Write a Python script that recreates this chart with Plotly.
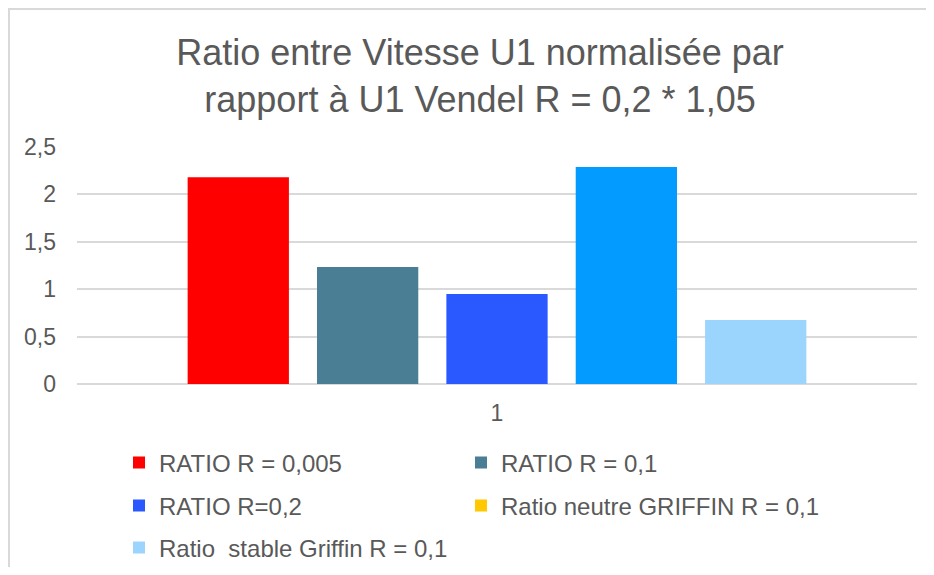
import plotly.graph_objects as go

categories = ["1"]
series_names = ["RATIO R = 0,005", "RATIO R = 0,1", "RATIO R=0,2",
                "Ratio neutre GRIFFIN R = 0,1", "Ratio  stable Griffin R = 0,1"]
series_values = [[2.18], [1.235], [0.95], [2.29], [0.675]]
bar_colors = ["#FF0000", "#4A7E94", "#2A5AFF", "#039BFF", "#9BD5FD"]
legend_colors = ["#FF0000", "#4A7E94", "#2A5AFF", "#FFC800", "#9BD5FD"]
legend_ids = ["legend", "legend2", "legend3", "legend4", "legend5"]
y_ticks = [0, 0.5, 1, 1.5, 2, 2.5]
y_tick_labels = ["0", "0,5", "1", "1,5", "2", "2,5"]

FONT = "Liberation Sans, Arial, sans-serif"
TXT = "#595959"

# page has an 8px body margin; figure sized to fit the window without scrollbars
W, H = 918, 559
L, R = 69, 918 - 909
T, B = 139, 559 - 376
pw, ph = W - L - R, H - T - B

def px_x(p):
    return (p - L) / pw

def px_y(p):
    return (H - B - p) / ph

fig = go.Figure()
for name, vals, bc, lc, lid in zip(series_names, series_values, bar_colors, legend_colors, legend_ids):
    same = bc == lc
    fig.add_trace(go.Bar(x=categories, y=vals, name=name, marker_color=bc,
                         marker_line_width=0, showlegend=same, legend=lid))
    if not same:
        fig.add_trace(go.Scatter(x=[None], y=[None], mode="markers", name=name,
                                 marker=dict(symbol="square", size=12, color=lc),
                                 showlegend=True, legend=lid))

leg_common = dict(orientation="v", xanchor="left", yanchor="middle",
                  font=dict(family=FONT, size=24, color=TXT),
                  bgcolor="rgba(0,0,0,0)", itemclick=False)

# legend grid: 2 columns, 3 rows (pixel positions of item text start / row centre)
col_x = [111, 453]
row_y = [455, 498, 540]
legend_pos = [(0, 0), (1, 0), (0, 1), (1, 1), (0, 2)]
legend_layout = {}
for lid, (c, r) in zip(legend_ids, legend_pos):
    legend_layout[lid] = dict(x=px_x(col_x[c]), y=px_y(row_y[r]), **leg_common)

fig.update_layout(
    width=W, height=H,
    margin=dict(l=L, r=R, t=T, b=B, pad=0, autoexpand=False),
    paper_bgcolor="white", plot_bgcolor="white",
    title=dict(text="Ratio entre Vitesse U1 normalisée par<br>rapport à U1 Vendel R = 0,2 * 1,05",
               x=472 / W, xanchor="center", y=1 - 57 / H, yanchor="middle",
               font=dict(family=FONT, size=36, color=TXT)),
    barmode="group", bargap=0.23, bargroupgap=0.217,
    xaxis=dict(type="category", showgrid=False, zeroline=False, showline=False,
               tickfont=dict(family=FONT, size=23, color=TXT), ticks="",
               ticklabelstandoff=13),
    yaxis=dict(range=[0, 2.5], tickvals=y_ticks, ticktext=y_tick_labels,
               showgrid=True, gridcolor="#D9D9D9", gridwidth=1.5,
               zeroline=True, zerolinecolor="#D9D9D9", zerolinewidth=1.5,
               showline=False, ticks="",
               tickfont=dict(family=FONT, size=23, color=TXT),
               ticklabelstandoff=20, fixedrange=True),
    showlegend=True,
    shapes=[dict(type="rect", xref="paper", yref="paper",
                 x0=px_x(1), x1=px_x(940), y0=px_y(600), y1=px_y(1),
                 line=dict(color="#D9D9D9", width=2), fillcolor="rgba(0,0,0,0)",
                 layer="below")],
    **legend_layout,
)

fig.write_html("out.html")
